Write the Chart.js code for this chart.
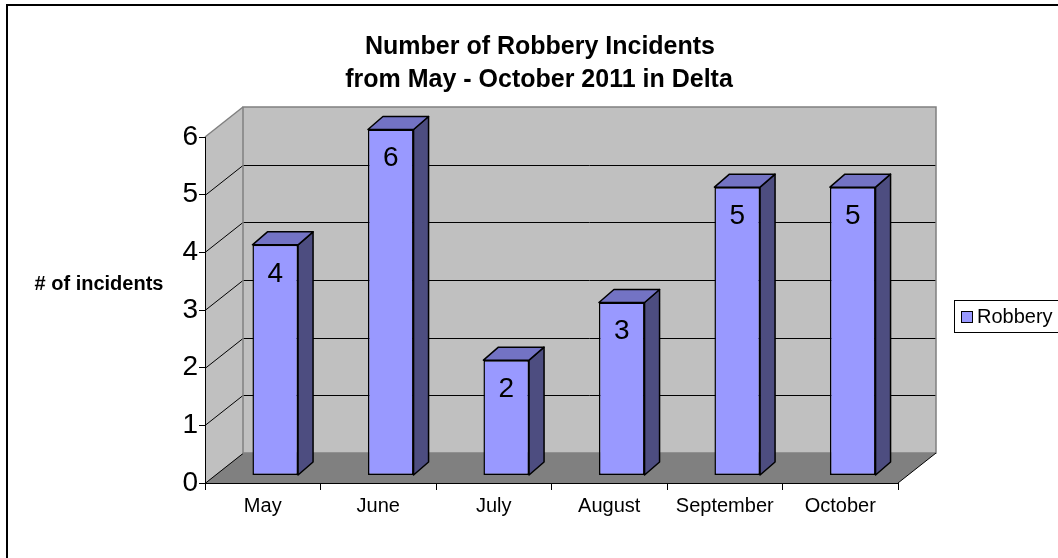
<!DOCTYPE html>
<html>
<head>
<meta charset="utf-8">
<script src="https://cdn.jsdelivr.net/npm/chart.js@4"></script>
<style>
  body { margin: 0; background: #fff; }
  #wrap { width: 1058px; height: 558px; }
</style>
</head>
<body>
<div id="wrap"><canvas id="robberyChart" width="1058" height="558"></canvas></div>
<script>
// data
const months = ['May', 'June', 'July', 'August', 'September', 'October'];
const robbery = [4, 6, 2, 3, 5, 5];
const seriesName = 'Robbery';
const titleLines = ['Number of Robbery Incidents', 'from May - October 2011 in Delta'];
const yTitle = '# of incidents';

const FONT = "'Liberation Sans', Arial, sans-serif";
Chart.defaults.font.family = FONT;
Chart.defaults.color = '#000';

// depth of the walls and of the bars
const WALL_DX = 38, WALL_DY = -30;
const BAR_SHIFT_X = 12.5, BAR_SHIFT_Y = -7.5;
const BAR_DX = 15, BAR_DY = -13;

// back wall, side wall and floor behind everything
const wallsPlugin = {
    id: 'walls',
    beforeDraw(chart) {
        const { ctx, chartArea: a, scales: { y } } = chart;
        const L = a.left, R = a.right, T = a.top, B = a.bottom;
        ctx.save();
        // side wall
        ctx.fillStyle = '#C0C0C0';
        ctx.beginPath();
        ctx.moveTo(L, T);
        ctx.lineTo(L + WALL_DX, T + WALL_DY);
        ctx.lineTo(L + WALL_DX, B + WALL_DY);
        ctx.lineTo(L, B);
        ctx.closePath();
        ctx.fill();
        // back wall
        ctx.fillRect(L + WALL_DX, T + WALL_DY, R - L, B - T);
        // floor
        ctx.fillStyle = '#808080';
        ctx.beginPath();
        ctx.moveTo(L, B);
        ctx.lineTo(L + WALL_DX, B + WALL_DY);
        ctx.lineTo(R + WALL_DX, B + WALL_DY);
        ctx.lineTo(R, B);
        ctx.closePath();
        ctx.fill();

        // gridlines on back and side wall
        ctx.strokeStyle = '#000';
        ctx.lineWidth = 1;
        for (let v = 0; v <= 5; v++) {
            const py = Math.round(y.getPixelForValue(v)) + 0.5;
            ctx.beginPath();
            ctx.moveTo(L, py);
            ctx.lineTo(L + WALL_DX, py + WALL_DY);
            if (v > 0) ctx.lineTo(R + WALL_DX, py + WALL_DY);
            ctx.stroke();
        }
        // wall edges
        ctx.strokeStyle = '#808080';
        ctx.lineWidth = 1.5;
        ctx.strokeRect(L + WALL_DX, T + WALL_DY, R - L, B - T);
        ctx.beginPath();
        ctx.moveTo(L, T);
        ctx.lineTo(L + WALL_DX, T + WALL_DY);
        ctx.stroke();
        // front right floor edge
        ctx.strokeStyle = '#000';
        ctx.lineWidth = 1;
        ctx.beginPath();
        ctx.moveTo(R, B);
        ctx.lineTo(R + WALL_DX, B + WALL_DY);
        ctx.stroke();
        ctx.restore();
    }
};

// push the bars into the room and add top / side faces and value labels
const barsPlugin = {
    id: 'bars3d',
    beforeDatasetsDraw(chart) {
        chart.ctx.save();
        chart.ctx.translate(BAR_SHIFT_X, BAR_SHIFT_Y);
    },
    afterDatasetsDraw(chart) {
        const ctx = chart.ctx;
        ctx.restore();
        const meta = chart.getDatasetMeta(0);
        ctx.save();
        ctx.strokeStyle = '#000';
        ctx.lineWidth = 1.5;
        ctx.lineJoin = 'round';
        meta.data.forEach((bar, i) => {
            const l = bar.x - bar.width / 2 + BAR_SHIFT_X;
            const r = bar.x + bar.width / 2 + BAR_SHIFT_X;
            const t = bar.y + BAR_SHIFT_Y;
            const b = bar.base + BAR_SHIFT_Y;
            // side
            ctx.fillStyle = '#4D4D80';
            ctx.beginPath();
            ctx.moveTo(r, t);
            ctx.lineTo(r + BAR_DX, t + BAR_DY);
            ctx.lineTo(r + BAR_DX, b + BAR_DY);
            ctx.lineTo(r, b);
            ctx.closePath();
            ctx.fill();
            ctx.stroke();
            // top
            ctx.fillStyle = '#7373C4';
            ctx.beginPath();
            ctx.moveTo(l, t);
            ctx.lineTo(l + BAR_DX, t + BAR_DY);
            ctx.lineTo(r + BAR_DX, t + BAR_DY);
            ctx.lineTo(r, t);
            ctx.closePath();
            ctx.fill();
            ctx.stroke();
            // value
            ctx.fillStyle = '#000';
            ctx.font = '28px ' + FONT;
            ctx.textAlign = 'center';
            ctx.textBaseline = 'middle';
            ctx.fillText(String(robbery[i]), (l + r) / 2, t + 29);
        });
        ctx.restore();
    }
};

// title, axis title, legend and outer frame
const textPlugin = {
    id: 'texts',
    afterDraw(chart) {
        const ctx = chart.ctx;
        ctx.save();
        ctx.fillStyle = '#000';
        ctx.textAlign = 'center';
        ctx.textBaseline = 'middle';
        ctx.font = 'bold 25px ' + FONT;
        ctx.fillText(titleLines[0], 540, 47);
        ctx.fillText(titleLines[1], 539, 80);

        ctx.font = 'bold 20px ' + FONT;
        ctx.fillText(yTitle, 99, 284);

        // legend
        ctx.strokeStyle = '#000';
        ctx.lineWidth = 1;
        ctx.strokeRect(954.5, 300.5, 110, 32);
        ctx.fillStyle = '#9999FF';
        ctx.fillRect(961.5, 311.5, 11, 11);
        ctx.strokeRect(961.5, 311.5, 11, 11);
        ctx.fillStyle = '#000';
        ctx.textAlign = 'left';
        ctx.font = '20px ' + FONT;
        ctx.fillText(seriesName, 977, 317);

        // chart frame
        ctx.lineWidth = 2;
        ctx.strokeRect(7, 5, 1200, 700);
        ctx.restore();
    }
};

const ctx = document.getElementById('robberyChart').getContext('2d');

new Chart(ctx, {
    type: 'bar',
    data: {
        labels: months,
        datasets: [
            {
                label: seriesName,
                data: robbery,
                backgroundColor: '#9999FF',
                borderColor: '#000',
                borderWidth: 1.5,
                borderSkipped: false,
                barPercentage: 0.395,
                categoryPercentage: 1,
            },
        ]
    },
    options: {
        responsive: false,
        devicePixelRatio: 1,
        animation: false,
        layout: { padding: { left: 145, right: 160, top: 137, bottom: 0 } },
        plugins: {
            legend: { display: false },
            title: { display: false },
            tooltip: { enabled: false },
        },
        scales: {
            x: {
                afterFit: s => { s.height = 75; },
                grid: { drawOnChartArea: false, drawTicks: true, tickLength: 7, color: '#000', offset: true },
                border: { display: true, color: '#000', width: 1 },
                ticks: { font: { size: 20 }, color: '#000', padding: 4, maxRotation: 0 },
            },
            y: {
                min: 0,
                max: 6,
                afterFit: s => { s.width = 60; },
                grid: { drawOnChartArea: false, drawTicks: true, tickLength: 6, color: '#000' },
                border: { display: true, color: '#000', width: 1 },
                ticks: { stepSize: 1, font: { size: 28 }, color: '#000', padding: 1 },
            },
        },
    },
    plugins: [wallsPlugin, barsPlugin, textPlugin],
});
</script>
</body>
</html>
